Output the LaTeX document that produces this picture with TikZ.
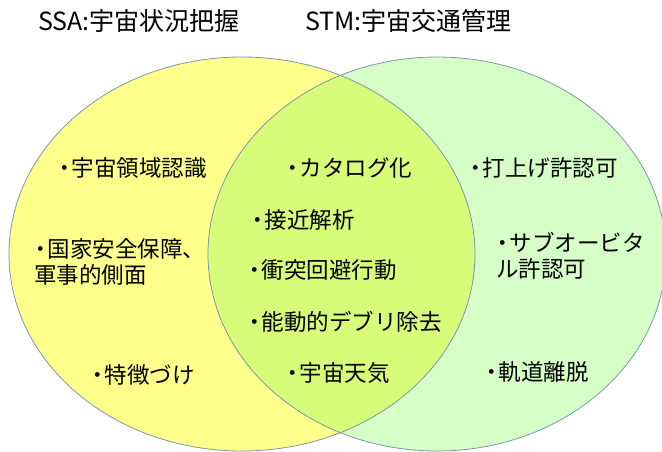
\documentclass[tikz,border=0pt]{standalone}
\usepackage{fontspec}
\setmainfont{Noto Sans CJK JP}
\definecolor{ssay}{RGB}{255,255,140}
\definecolor{stmg}{RGB}{214,255,200}
\definecolor{bothc}{RGB}{214,252,122}
\definecolor{edgec}{RGB}{125,150,170}
\newcommand{\bul}{\makebox[0.6em][c]{・}}
\begin{document}
\begin{tikzpicture}[x=1pt,y=-1pt,
  lbl/.style={anchor=west,inner sep=0pt,font=\fontsize{22.5}{26}\selectfont,align=left},
  ttl/.style={anchor=west,inner sep=0pt,font=\fontsize{25}{30}\selectfont},
  venn/.style={draw=edgec,line width=0.8pt}]
\useasboundingbox (0,0) rectangle (662,451);
\coordinate (cl) at (242,254);
\coordinate (cr) at (437,254);
\fill[ssay] (cl) ellipse [x radius=233pt, y radius=197pt];
\fill[stmg] (cr) ellipse [x radius=229pt, y radius=197pt];
\begin{scope}
  \clip (cl) ellipse [x radius=233pt, y radius=197pt];
  \fill[bothc] (cr) ellipse [x radius=229pt, y radius=197pt];
\end{scope}
\draw[venn] (cl) ellipse [x radius=233pt, y radius=197pt];
\draw[venn] (cr) ellipse [x radius=229pt, y radius=197pt];
% titles
\node[ttl] (tssa) at (38,21) {SSA:宇宙状況把握};
\node[ttl] (tstm) at (305,21) {STM:宇宙交通管理};
% left
\node[lbl] (l1) at (58,168) {\bul 宇宙領域認識};
\node[lbl] (l2) at (34,262) {\bul 国家安全保障、\\軍事的側面};
\node[lbl] (l3) at (91,375) {\bul 特徴づけ};
% middle
\node[lbl] (m1) at (286,168) {\bul カタログ化};
\node[lbl] (m2) at (251,220) {\bul 接近解析};
\node[lbl] (m3) at (248,270) {\bul 衝突回避行動};
\node[lbl] (m4) at (248,322) {\bul 能動的デブリ除去};
\node[lbl] (m5) at (286,373) {\bul 宇宙天気};
% right
\node[lbl] (r1) at (469,168) {\bul 打上げ許認可};
\node[lbl] (r2) at (496,256) {\bul サブオービタ\\ル許認可};
\node[lbl] (r3) at (485,372) {\bul 軌道離脱};
\end{tikzpicture}
\end{document}
